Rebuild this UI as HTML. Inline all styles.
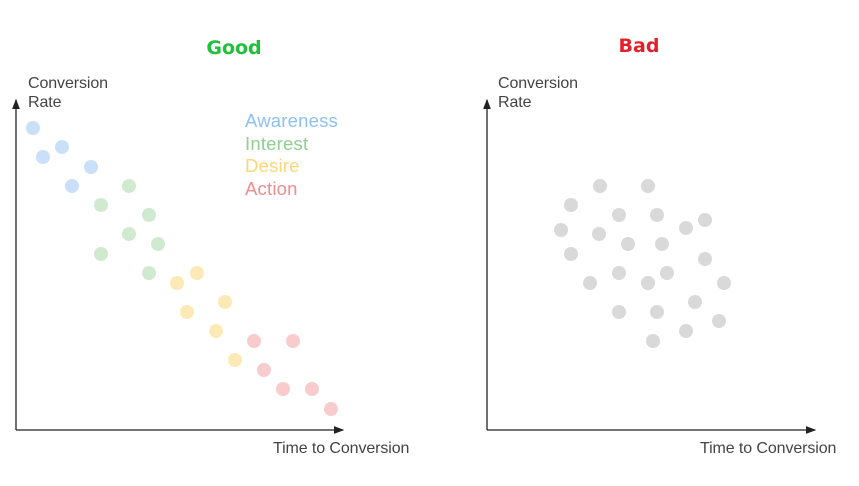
<!DOCTYPE html>
<html><head><style>body{margin:0;background:#fff}</style></head><body>
<svg width="859" height="481" xmlns="http://www.w3.org/2000/svg" font-family="Liberation Sans, sans-serif">
<defs><marker id="a" markerWidth="8" markerHeight="8" refX="7" refY="4" orient="auto"><path d="M0,1 L8,4 L0,7z" fill="#222"/></marker></defs>
<text x="234" y="54" text-anchor="middle" font-family="DejaVu Sans, sans-serif" font-weight="bold" font-size="19" fill="#1fc13a">Good</text>
<text x="639" y="52" text-anchor="middle" font-family="DejaVu Sans, sans-serif" font-weight="bold" font-size="19" fill="#e3202a">Bad</text>
<g fill="#444" font-size="16" letter-spacing="-0.1">
<text x="28" y="88">Conversion</text><text x="28" y="107">Rate</text>
<text x="498" y="88">Conversion</text><text x="498" y="107">Rate</text>
<text x="273" y="453">Time to Conversion</text>
<text x="700" y="453">Time to Conversion</text>
</g>
<g stroke="#222" stroke-width="1.3" fill="none">
<path d="M16,430 L16,100" marker-end="url(#a)"/><path d="M16,430 L343,430" marker-end="url(#a)"/>
<path d="M487,430 L487,100" marker-end="url(#a)"/><path d="M487,430 L815,430" marker-end="url(#a)"/>
</g>
<g font-size="18.5" letter-spacing="0.2">
<text x="245" y="127" fill="#8ec0f0">Awareness</text>
<text x="245" y="150" fill="#8fd08f">Interest</text>
<text x="245" y="172" fill="#fcd77a">Desire</text>
<text x="245" y="195" fill="#f08c8c">Action</text>
</g>
<g fill="#c9e0f8"><circle cx="33" cy="128" r="7"/><circle cx="43" cy="157" r="7"/><circle cx="62" cy="147" r="7"/><circle cx="91" cy="167" r="7"/><circle cx="72" cy="186" r="7"/></g>
<g fill="#cfeacf"><circle cx="129" cy="186" r="7"/><circle cx="101" cy="205" r="7"/><circle cx="149" cy="215" r="7"/><circle cx="129" cy="234" r="7"/><circle cx="158" cy="244" r="7"/><circle cx="101" cy="254" r="7"/><circle cx="149" cy="273" r="7"/></g>
<g fill="#fde9b6"><circle cx="177" cy="283" r="7"/><circle cx="197" cy="273" r="7"/><circle cx="187" cy="312" r="7"/><circle cx="225" cy="302" r="7"/><circle cx="216" cy="331" r="7"/><circle cx="235" cy="360" r="7"/></g>
<g fill="#f8cccc"><circle cx="254" cy="341" r="7"/><circle cx="293" cy="341" r="7"/><circle cx="264" cy="370" r="7"/><circle cx="283" cy="389" r="7"/><circle cx="312" cy="389" r="7"/><circle cx="331" cy="409" r="7"/></g>
<g fill="#d9d9d9"><circle cx="600" cy="186" r="7"/><circle cx="648" cy="186" r="7"/><circle cx="571" cy="205" r="7"/><circle cx="619" cy="215" r="7"/><circle cx="657" cy="215" r="7"/><circle cx="705" cy="220" r="7"/><circle cx="686" cy="228" r="7"/><circle cx="561" cy="230" r="7"/><circle cx="599" cy="234" r="7"/><circle cx="628" cy="244" r="7"/><circle cx="662" cy="244" r="7"/><circle cx="571" cy="254" r="7"/><circle cx="705" cy="259" r="7"/><circle cx="619" cy="273" r="7"/><circle cx="667" cy="273" r="7"/><circle cx="590" cy="283" r="7"/><circle cx="648" cy="283" r="7"/><circle cx="724" cy="283" r="7"/><circle cx="695" cy="302" r="7"/><circle cx="619" cy="312" r="7"/><circle cx="657" cy="312" r="7"/><circle cx="719" cy="321" r="7"/><circle cx="686" cy="331" r="7"/><circle cx="653" cy="341" r="7"/></g>
</svg>
</body></html>
